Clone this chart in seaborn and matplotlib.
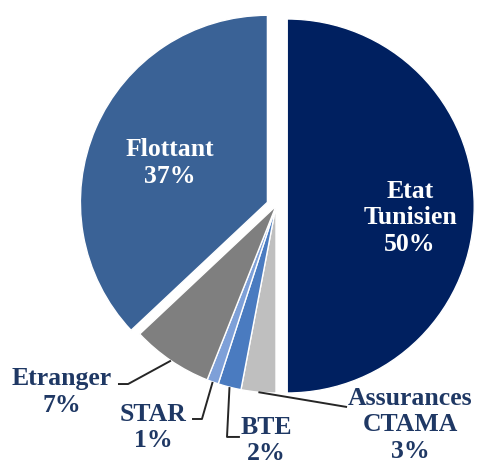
import numpy as np
import matplotlib
matplotlib.use("Agg")
import matplotlib.pyplot as plt
import seaborn as sns

# ---- data ----
labels = ["Etat\nTunisien", "Assurances\nCTAMA", "BTE", "STAR", "Etranger", "Flottant"]
values = [50, 3, 2, 1, 7, 37]
pct_labels = ["50%", "3%", "2%", "1%", "7%", "37%"]

colors = ["#002060", "#bfbfbf", "#4a7bc0", "#7ea0d8", "#7f7f7f", "#3a6296"]
explode = [0.06, 0, 0, 0, 0, 0.05]

sns.set_theme(style="white")
plt.rcParams['font.family'] = ['Liberation Serif', 'DejaVu Serif']

W, H = 479, 466
fig = plt.figure(figsize=(W / 100, H / 100), dpi=100)
cx, cy, R = 276, 206, 187
ax = fig.add_axes([(cx - R) / W, (H - cy - R) / H, 2 * R / W, 2 * R / H])

wedges, _ = ax.pie(values, colors=colors, explode=explode, startangle=90,
                   counterclock=False, radius=1.0,
                   wedgeprops=dict(edgecolor="white", linewidth=1.0))
for w in wedges:
    w.set_clip_on(False)
ax.set_xlim(-1, 1)
ax.set_ylim(-1, 1)
ax.set_aspect("auto")
ax.axis("off")

navy = "#1f3864"
fs = 18.5
ls = 1.18

# inside labels
inside = {0: (0.717, -0.064), 5: (-0.567, 0.23)}
for i, (x, y) in inside.items():
    ax.text(x, y, labels[i] + "\n" + pct_labels[i], ha="center", va="center",
            color="white", fontsize=fs, fontweight="bold", linespacing=ls)

# outside labels with leader lines
outside = {
    4: dict(text=(-1.144, -0.995), path=[(-0.791, -0.952), (-0.845, -0.952)]),
    3: dict(text=(-0.658, -1.185), path=[(-0.396, -1.139), (-0.449, -1.139)]),
    2: dict(text=(-0.053, -1.255), path=[(-0.262, -1.235), (-0.193, -1.235)]),
    1: dict(text=(0.717, -1.17), path=[(0.380, -1.075)]),
}
for i, spec in outside.items():
    w = wedges[i]
    mid = np.deg2rad((w.theta1 + w.theta2) / 2)
    sx, sy = np.cos(mid) * 1.0, np.sin(mid) * 1.0
    xs = [sx] + [p[0] for p in spec["path"]]
    ys = [sy] + [p[1] for p in spec["path"]]
    ax.plot(xs, ys, color="#262626", lw=1.4, clip_on=False, solid_capstyle="butt")
    tx, ty = spec["text"]
    ax.text(tx, ty, labels[i] + "\n" + pct_labels[i], ha="center", va="center",
            color=navy, fontsize=fs, fontweight="bold", linespacing=ls)

fig.savefig("out.png", dpi=100)
